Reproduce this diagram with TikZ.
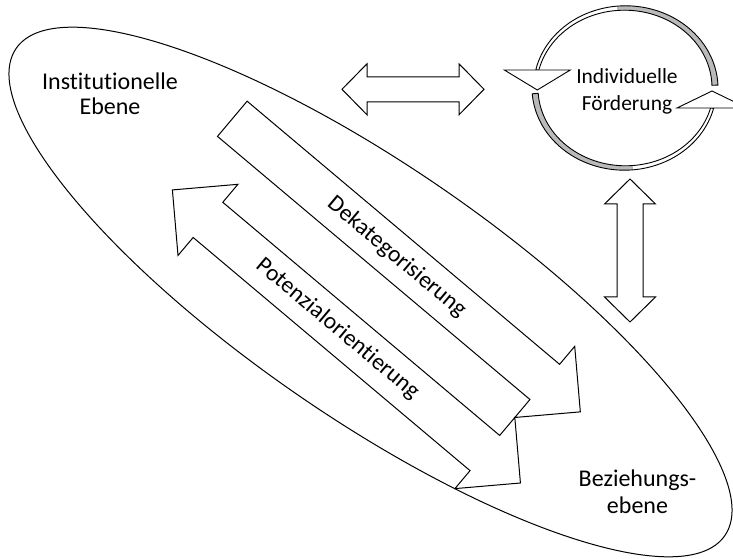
\documentclass[tikz,border=0pt]{standalone}
\usepackage{fontspec}
\setmainfont{Carlito}[RawFeature={-liga;-clig;-dlig}]
\usetikzlibrary{shapes.geometric}
\begin{document}
\begin{tikzpicture}[x=1pt,y=1pt,line join=miter,
  outl/.style={draw=black,line width=1pt,fill=white},
  bandline/.style={draw=black,line width=0.9pt},
  bandgray/.style={fill=black!27},
  lbl/.style={inner sep=0pt,anchor=base,font=\fontsize{24}{26}\selectfont},
  clbl/.style={inner sep=0pt,anchor=base,font=\fontsize{21.5}{24}\selectfont},
  rlbl/.style={inner sep=0pt,anchor=center,transform shape,font=\fontsize{23.5}{26}\selectfont}]
\useasboundingbox (0,0) rectangle (733,559);

% large ellipse
\node[ellipse,draw=black,line width=1pt,minimum width=860pt,minimum height=252pt,
      rotate=-34.5,inner sep=0pt] (outer) at (370.5,267) {};

% labels of the ellipse
\node[lbl] (inst1) at (110,469.7) {Institutionelle};
\node[lbl] (inst2) at (110,444) {Ebene};
\node[lbl] (bez1) at (637.5,72.3) {Beziehungs-};
\node[lbl] (bez2) at (637.5,45) {ebene};

% horizontal double arrow
\coordinate (hL) at (342,469.7);
\coordinate (hR) at (484,469.7);
\draw[outl] (hL) -- ++(25,25.5) -- ++(0,-13) -- ++(92,0) -- ++(0,13) -- (hR)
  -- ++(-25,-25.5) -- ++(0,13) -- ++(-92,0) -- ++(0,-13) -- cycle;

% vertical double arrow
\coordinate (vT) at (630,380);
\coordinate (vB) at (630,237);
\draw[outl] (vT) -- ++(25.5,-25) -- ++(-12.5,0) -- ++(0,-93) -- ++(12.5,0) -- (vB)
  -- ++(-25.5,25) -- ++(12.5,0) -- ++(0,93) -- ++(-12.5,0) -- cycle;

% diagonal arrows
\begin{scope}[shift={(232.3,440.2)},rotate=-40.1]
  \draw[outl] (0,-93) -- (46.5,-46.5) -- (46.5,-70) -- (408.5,-70) -- (408.5,-46.5)
    -- (455,-93) -- (408.5,-139.5) -- (408.5,-116) -- (46.5,-116) -- (46.5,-139.5) -- cycle;
  \draw[outl] (0,23) -- (408.5,23) -- (408.5,46.5) -- (455,0) -- (408.5,-46.5)
    -- (408.5,-23) -- (0,-23) -- cycle;
  \node[rlbl] (dek) at (215,0) {Dekategorisierung};
  \node[rlbl] (pot) at (216,-93) {Potenzialorientierung};
\end{scope}

% circular arrows (centre 625,471; rx 90; ry 80)
% upper arc: t from 2 to 167
\fill[bandgray] plot[domain=2:95,samples=50,variable=\t]
   ({625+(90+3-1.5*(\t-2)/165)*cos(\t)},{471+(80+3-1.5*(\t-2)/165)*sin(\t)})
 -- plot[domain=95:2,samples=50,variable=\t]
   ({625+(90-3+1.5*(\t-2)/165)*cos(\t)},{471+(80-3+1.5*(\t-2)/165)*sin(\t)}) -- cycle;
\draw[bandline] plot[domain=2:167,samples=80,variable=\t]
   ({625+(90+3-1.5*(\t-2)/165)*cos(\t)},{471+(80+3-1.5*(\t-2)/165)*sin(\t)})
 -- plot[domain=167:2,samples=80,variable=\t]
   ({625+(90-3+1.5*(\t-2)/165)*cos(\t)},{471+(80-3+1.5*(\t-2)/165)*sin(\t)}) -- cycle;
\coordinate (h1) at (537.3,469);
\draw[outl,line width=0.9pt] (504.3,489) -- (570.3,489) -- (h1) -- cycle;

% lower arc: t from 184 to 345.5
\fill[bandgray] plot[domain=184:275,samples=50,variable=\t]
   ({625+(90+3-1.5*(\t-184)/161.5)*cos(\t)},{471+(80+3-1.5*(\t-184)/161.5)*sin(\t)})
 -- plot[domain=275:184,samples=50,variable=\t]
   ({625+(90-3+1.5*(\t-184)/161.5)*cos(\t)},{471+(80-3+1.5*(\t-184)/161.5)*sin(\t)}) -- cycle;
\draw[bandline] plot[domain=184:345.5,samples=80,variable=\t]
   ({625+(90+3-1.5*(\t-184)/161.5)*cos(\t)},{471+(80+3-1.5*(\t-184)/161.5)*sin(\t)})
 -- plot[domain=345.5:184,samples=80,variable=\t]
   ({625+(90-3+1.5*(\t-184)/161.5)*cos(\t)},{471+(80-3+1.5*(\t-184)/161.5)*sin(\t)}) -- cycle;
\coordinate (h2) at (712,468);
\draw[outl,line width=0.9pt] (677,451) -- (747,451) -- (h2) -- cycle;

\node[clbl] (ind1) at (627,475) {Individuelle};
\node[clbl] (ind2) at (627,448) {Förderung};
\end{tikzpicture}
\end{document}
